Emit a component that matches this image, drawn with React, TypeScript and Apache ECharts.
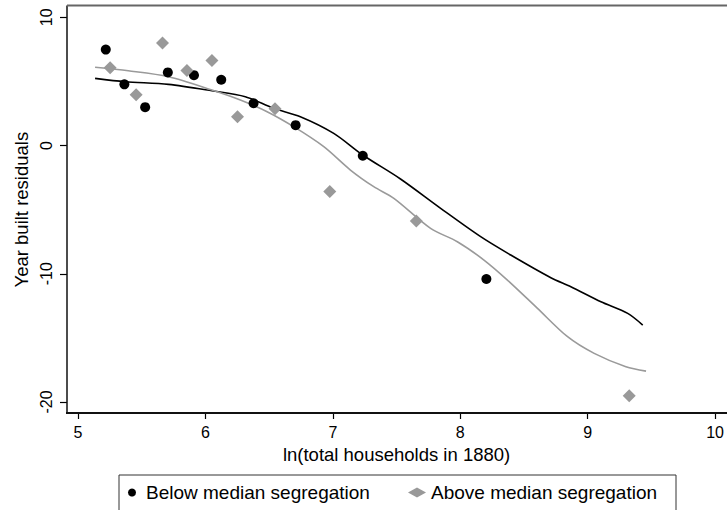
import React, { useEffect, useRef } from "react";
import * as echarts from "echarts";

const belowX = [5.218, 5.364, 5.527, 5.705, 5.91, 6.124, 6.378, 6.708, 7.235, 8.205];
const belowY = [7.48, 4.77, 2.99, 5.7, 5.49, 5.13, 3.3, 1.59, -0.8, -10.41];

const aboveX = [5.252, 5.456, 5.663, 5.855, 6.051, 6.252, 6.546, 6.976, 7.655, 9.326];
const aboveY = [6.07, 3.96, 7.99, 5.86, 6.64, 2.24, 2.87, -3.59, -5.88, -19.51];

const belowFitX = [5.134, 5.37, 5.71, 6.051, 6.313, 6.535, 6.745, 7.007, 7.235, 7.531, 7.846, 8.16, 8.396, 8.711, 8.868, 9.104, 9.314, 9.432];
const belowFitY = [5.24, 4.98, 4.77, 4.27, 3.81, 2.9, 2.25, 0.95, -0.74, -2.61, -4.9, -7.11, -8.54, -10.31, -11.01, -12.18, -13.09, -14.0];

const aboveFitX = [5.134, 5.395, 5.71, 6.051, 6.274, 6.484, 6.693, 6.929, 7.138, 7.321, 7.479, 7.767, 7.977, 8.186, 8.37, 8.606, 8.842, 9.051, 9.3, 9.458];
const aboveFitY = [6.1, 5.83, 5.37, 4.33, 3.55, 2.64, 1.47, -0.09, -1.91, -3.21, -4.12, -6.46, -7.5, -8.93, -10.49, -12.7, -14.91, -16.21, -17.25, -17.59];

const xTicks = [5, 6, 7, 8, 9, 10];
const yTicks = [-20, -10, 0, 10];

const BELOW = "Below median segregation";
const ABOVE = "Above median segregation";
const FONT = "Liberation Sans";

const zip = (xs: number[], ys: number[]) => xs.map((x, i) => [x, ys[i]]);

export default function App() {
  const ref = useRef<HTMLDivElement>(null);
  useEffect(() => {
    if (!ref.current) return;
    const chart = echarts.init(ref.current, null, { renderer: "svg" });
    const mainGrid = { left: 78, right: 10.6, top: 17.3, bottom: 108 };
    const mainX: any = {
      type: "value",
      gridIndex: 0,
      min: xTicks[0],
      max: xTicks[xTicks.length - 1],
      interval: 1,
      offset: 12,
      axisLine: { show: false, onZero: false },
      axisTick: { show: true, length: 5, lineStyle: { color: "#000", width: 1.2 } },
      axisLabel: { fontSize: 16, color: "#000", margin: 10, fontFamily: FONT },
      splitLine: { show: false },
      name: "ln(total households in 1880)",
      nameLocation: "middle",
      nameGap: 28,
      nameTextStyle: { fontSize: 18.5, color: "#000", fontFamily: FONT },
    };
    const mainY: any = {
      type: "value",
      gridIndex: 0,
      min: yTicks[0],
      max: yTicks[yTicks.length - 1],
      interval: 10,
      offset: 11,
      axisLine: { show: false, onZero: false },
      axisTick: { show: true, length: 7, lineStyle: { color: "#000", width: 1.2 } },
      axisLabel: { show: false },
      splitLine: { show: false },
      name: "Year built residuals",
      nameLocation: "middle",
      nameGap: 36,
      nameTextStyle: { fontSize: 18.5, color: "#000", fontFamily: FONT },
    };
    chart.setOption({
      animation: false,
      backgroundColor: "#fff",
      textStyle: { fontFamily: FONT },
      grid: [mainGrid],
      xAxis: [mainX],
      yAxis: [mainY],
      legend: [
        {
          data: [BELOW],
          left: 128,
          top: 483,
          padding: 0,
          itemWidth: 18,
          itemHeight: 8,
          selectedMode: false,
          textStyle: { fontSize: 19, color: "#000", fontFamily: FONT },
        },
        {
          data: [ABOVE],
          left: 408,
          top: 483,
          padding: 0,
          itemWidth: 18,
          itemHeight: 10,
          selectedMode: false,
          textStyle: { fontSize: 19, color: "#000", fontFamily: FONT },
        },
      ],
      graphic: [
        {
          type: "line",
          shape: { x1: 67, y1: 413, x2: 67, y2: 5.5 },
          style: { stroke: "#111", lineWidth: 1.5 },
          z: 10,
        },
        {
          type: "line",
          shape: { x1: 66, y1: 413, x2: 740, y2: 413 },
          style: { stroke: "#111", lineWidth: 2 },
          z: 10,
        },
        {
          type: "line",
          shape: { x1: 67, y1: 5.5, x2: 740, y2: 5.5 },
          style: { stroke: "#666", lineWidth: 2 },
          z: 10,
        },
        {
          type: "rect",
          shape: { x: 119, y: 475, width: 557, height: 60 },
          style: { fill: "none", stroke: "#333", lineWidth: 1 },
          z: 10,
        },
      ],
      series: [
        {
          name: "fitBelow",
          type: "line",
          data: zip(belowFitX, belowFitY),
          showSymbol: false,
          smooth: 0.3,
          lineStyle: { color: "#000", width: 1.6 },
          z: 1,
        },
        {
          name: "fitAbove",
          type: "line",
          data: zip(aboveFitX, aboveFitY),
          showSymbol: false,
          smooth: 0.3,
          lineStyle: { color: "#9a9a9a", width: 1.6 },
          z: 1,
        },
        {
          name: BELOW,
          type: "scatter",
          data: zip(belowX, belowY),
          symbol: "circle",
          symbolSize: 10,
          itemStyle: { color: "#000", opacity: 1 },
          z: 3,
        },
        {
          name: ABOVE,
          type: "scatter",
          data: zip(aboveX, aboveY),
          symbol: "diamond",
          symbolSize: 13,
          itemStyle: { color: "#999", opacity: 1 },
          z: 3,
        },
      ],
    });
    // Rotated y tick labels: one helper grid per tick, centred on the tick's pixel
    // position (taken from the main axis scale), whose axis name is the label.
    const px = yTicks.map((v) => (chart.convertToPixel({ gridIndex: 0 }, [xTicks[0], v]) as number[])[1]);
    const grids: any[] = [mainGrid];
    const xs: any[] = [mainX];
    const ys: any[] = [mainY];
    yTicks.forEach((v, i) => {
      grids.push({ left: mainGrid.left, right: mainGrid.right, top: px[i] - 10, height: 20 });
      xs.push({ type: "value", gridIndex: i + 1, show: false, min: 0, max: 1 });
      ys.push({
        type: "value",
        gridIndex: i + 1,
        min: 0,
        max: 1,
        offset: 11,
        axisLine: { show: false, onZero: false },
        axisTick: { show: false },
        axisLabel: { show: false },
        splitLine: { show: false },
        name: String(v),
        nameLocation: "middle",
        nameGap: 13,
        nameTextStyle: { fontSize: 16, color: "#000", fontFamily: FONT },
      });
    });
    chart.setOption({ grid: grids, xAxis: xs, yAxis: ys });
    return () => chart.dispose();
  }, []);
  return (
    <div
      ref={ref}
      style={{ position: "fixed", left: 0, top: 0, width: 727, height: 510, background: "#fff" }}
    />
  );
}
